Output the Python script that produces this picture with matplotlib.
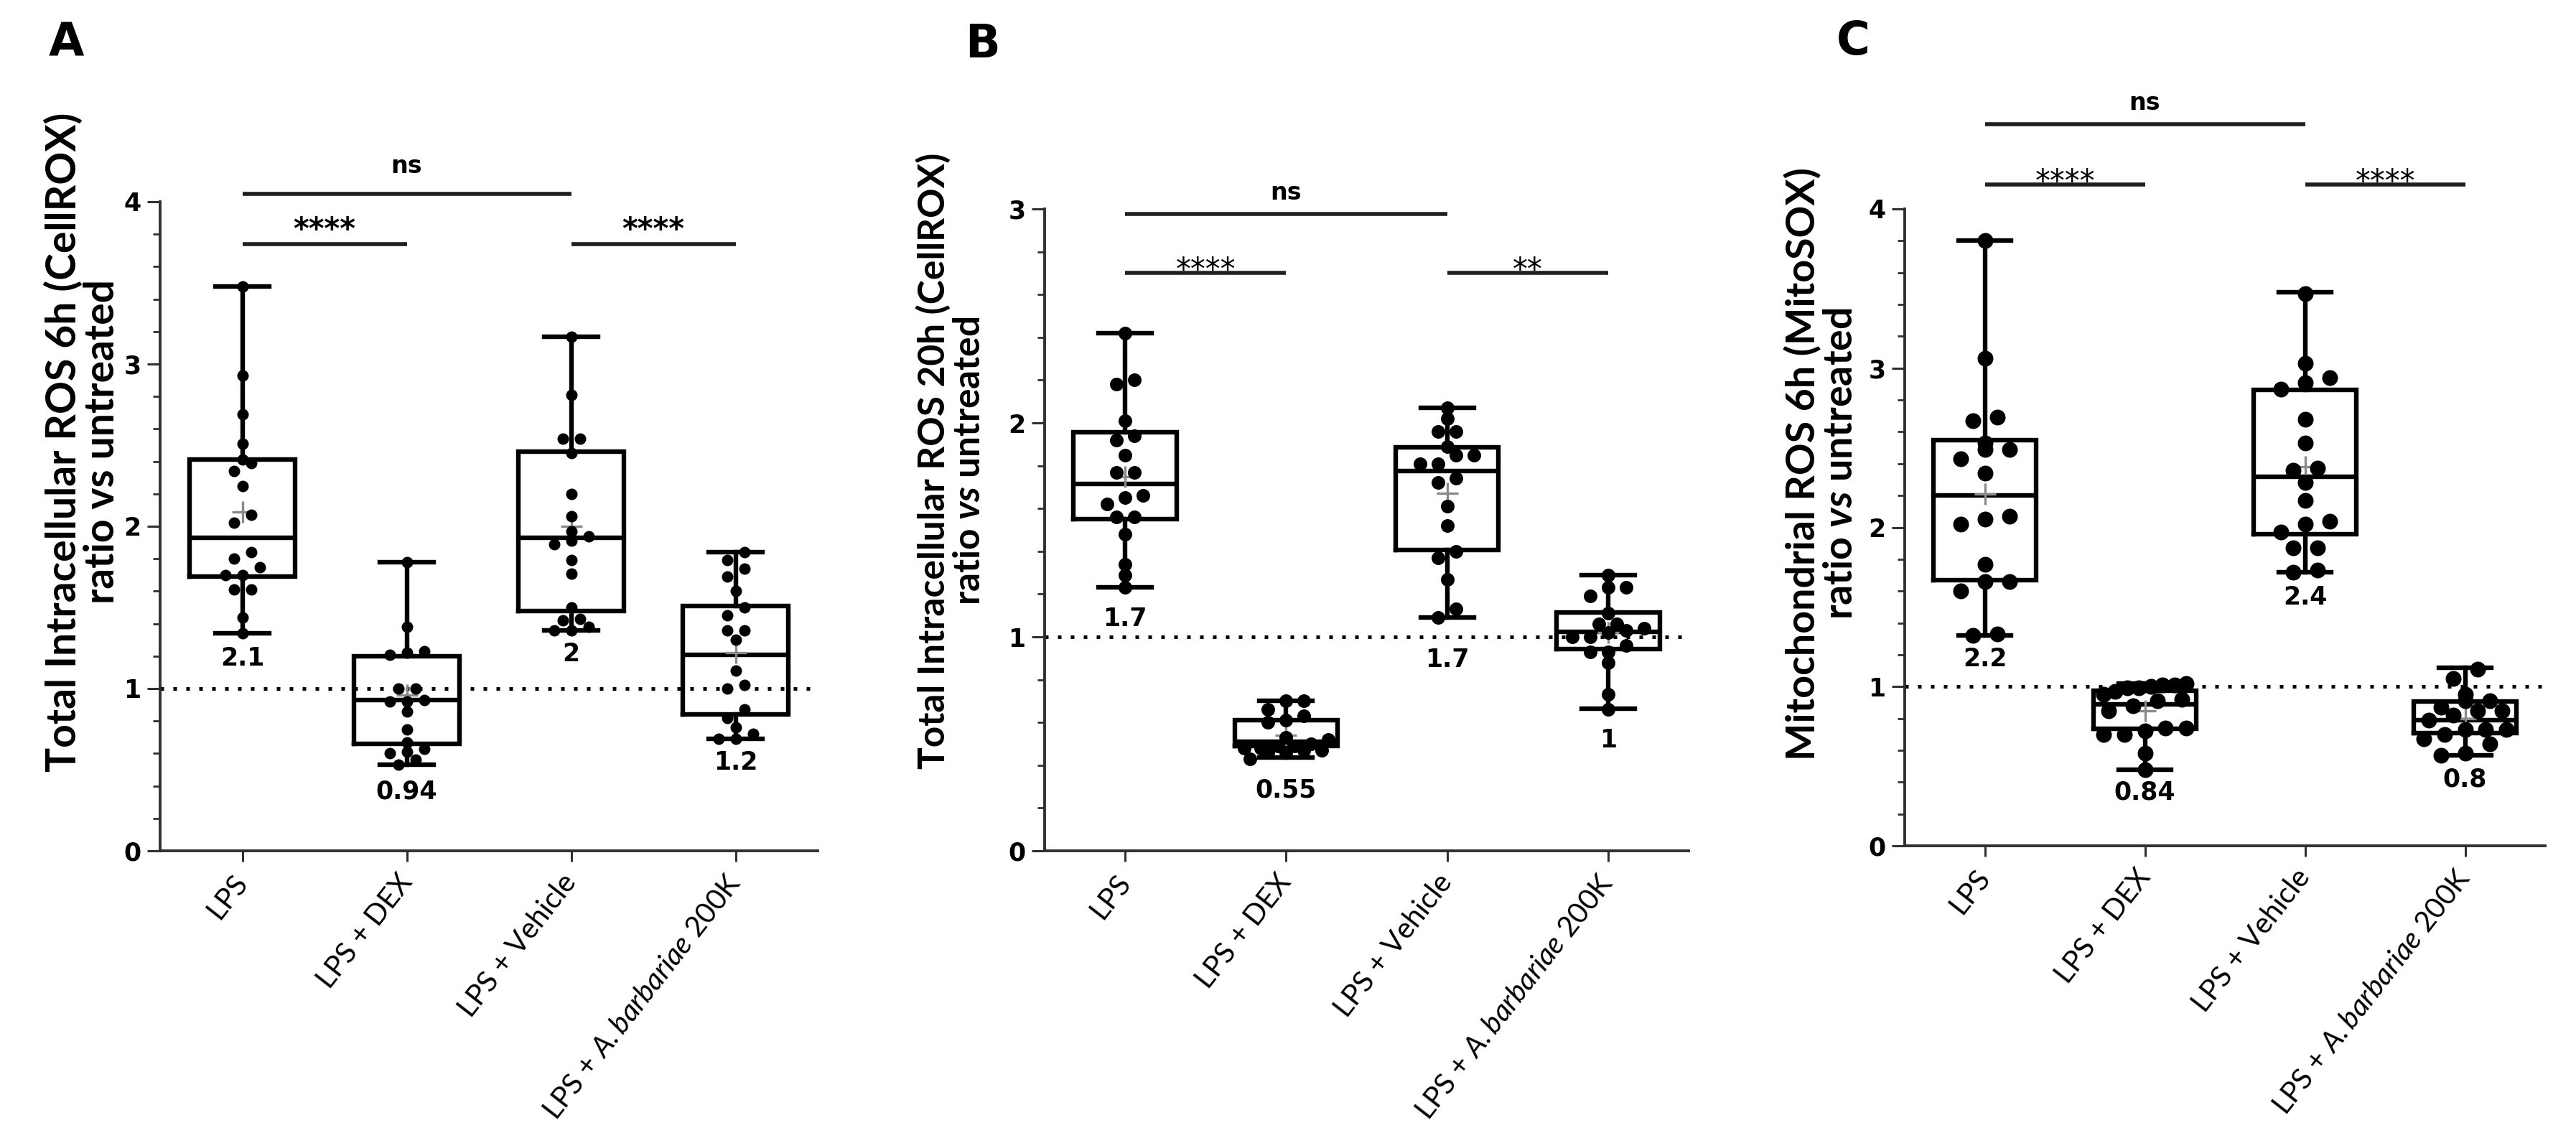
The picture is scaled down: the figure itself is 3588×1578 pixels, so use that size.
import numpy as np
import matplotlib
matplotlib.use("Agg")
import matplotlib.pyplot as plt
from matplotlib.ticker import MultipleLocator

plt.rcParams['mathtext.fontset'] = 'custom'
plt.rcParams['mathtext.rm'] = 'Lato'
plt.rcParams['mathtext.bf'] = 'Lato:bold'
plt.rcParams['mathtext.it'] = 'Lato:italic:bold'
plt.rcParams['mathtext.sf'] = 'Lato:italic'

# ---------------- data ----------------
categories = ["LPS", "LPS + DEX", "LPS + Vehicle", "LPS + $\\mathsf{A.barbariae}$ 200K"]

# Panel A : Total Intracellular ROS 6h (CellROX)
a_lps = [3.48, 2.93, 2.69, 2.51, 2.41, 2.39, 2.34, 2.25, 2.07, 2.02, 1.84, 1.80, 1.75, 1.70, 1.70, 1.61, 1.61, 1.44, 1.34]
a_dex = [1.78, 1.38, 1.23, 1.22, 1.21, 1.00, 1.00, 0.93, 0.92, 0.92, 0.86, 0.75, 0.67, 0.63, 0.61, 0.60, 0.56, 0.53]
a_veh = [3.17, 2.81, 2.54, 2.54, 2.45, 2.20, 2.06, 1.97, 1.94, 1.91, 1.89, 1.79, 1.71, 1.50, 1.43, 1.42, 1.38, 1.36, 1.36]
a_abar = [1.84, 1.79, 1.74, 1.69, 1.60, 1.50, 1.45, 1.36, 1.36, 1.30, 1.11, 1.02, 1.00, 0.87, 0.82, 0.76, 0.72, 0.69, 0.69]
a_med = [1.93, 0.93, 1.93, 1.21]
a_q1 = [1.69, 0.66, 1.48, 0.84]
a_q3 = [2.41, 1.20, 2.46, 1.51]
a_lo = [1.34, 0.53, 1.36, 0.69]
a_hi = [3.48, 1.78, 3.17, 1.84]
a_mean = [2.09, 0.96, 2.00, 1.22]
a_labels = ["2.1", "0.94", "2", "1.2"]

# Panel B : Total Intracellular ROS 20h (CellROX)
b_lps = [2.42, 2.20, 2.18, 2.01, 1.94, 1.92, 1.85, 1.77, 1.77, 1.66, 1.65, 1.62, 1.56, 1.56, 1.48, 1.34, 1.29, 1.23]
b_dex = [0.70, 0.70, 0.66, 0.63, 0.61, 0.60, 0.53, 0.52, 0.50, 0.49, 0.49, 0.48, 0.48, 0.47, 0.47, 0.46, 0.46, 0.43]
b_veh = [2.07, 2.02, 1.96, 1.96, 1.89, 1.85, 1.85, 1.81, 1.81, 1.74, 1.72, 1.61, 1.52, 1.40, 1.37, 1.27, 1.13, 1.09]
b_abar = [1.29, 1.23, 1.23, 1.19, 1.11, 1.06, 1.06, 1.04, 1.03, 1.02, 1.00, 1.00, 0.96, 0.93, 0.93, 0.88, 0.73, 0.66]
b_med = [1.715, 0.51, 1.775, 1.025]
b_q1 = [1.55, 0.49, 1.405, 0.942]
b_q3 = [1.955, 0.61, 1.886, 1.115]
b_lo = [1.23, 0.435, 1.09, 0.664]
b_hi = [2.42, 0.70, 2.07, 1.29]
b_mean = [1.75, 0.54, 1.67, 1.02]
b_labels = ["1.7", "0.55", "1.7", "1"]

# Panel C : Mitochondrial ROS 6h (MitoSOX)
c_lps = [3.80, 3.06, 2.69, 2.67, 2.53, 2.49, 2.49, 2.43, 2.34, 2.07, 2.05, 2.02, 1.77, 1.66, 1.66, 1.60, 1.33, 1.32]
c_dex = [1.02, 1.01, 1.01, 1.00, 0.99, 0.99, 0.97, 0.95, 0.92, 0.91, 0.88, 0.85, 0.74, 0.74, 0.72, 0.70, 0.70, 0.58, 0.48]
c_veh = [3.47, 3.03, 2.94, 2.91, 2.87, 2.68, 2.53, 2.37, 2.36, 2.28, 2.17, 2.04, 2.02, 1.97, 1.87, 1.87, 1.73, 1.72]
c_abar = [1.11, 1.05, 0.95, 0.91, 0.91, 0.87, 0.85, 0.85, 0.82, 0.79, 0.73, 0.73, 0.73, 0.70, 0.67, 0.64, 0.58, 0.57]
c_med = [2.20, 0.89, 2.32, 0.79]
c_q1 = [1.667, 0.734, 1.955, 0.71]
c_q3 = [2.549, 0.974, 2.864, 0.905]
c_lo = [1.32, 0.48, 1.72, 0.566]
c_hi = [3.80, 1.02, 3.475, 1.117]
c_mean = [2.21, 0.85, 2.38, 0.80]
c_labels = ["2.2", "0.84", "2.4", "0.8"]

# significance: (group i, group j, text)
a_sig = [(0, 2, "ns"), (0, 1, "****"), (2, 3, "****")]
b_sig = [(0, 2, "ns"), (0, 1, "****"), (2, 3, "**")]
c_sig = [(0, 2, "ns"), (0, 1, "****"), (2, 3, "****")]

a_ylabel = "Total Intracellular ROS 6h (CellROX)\nratio vs untreated"
b_ylabel = "Total Intracellular ROS 20h (CellROX)\nratio $\\mathit{vs}$ untreated"
c_ylabel = "Mitochondrial ROS 6h (MitoSOX)\nratio $\\mathit{vs}$ untreated"

# ---------------- figure ----------------
W, H = 3588, 1578
fig = plt.figure(figsize=(W / 100, H / 100), dpi=100)

panels = [
    dict(letter="A", rect=[223, 281, 1139, 1185], ymax=4,
         groups=[a_lps, a_dex, a_veh, a_abar], med=a_med, q1=a_q1, q3=a_q3, lo=a_lo, hi=a_hi,
         mean=a_mean, labels=a_labels, sig=a_sig, ylabel=a_ylabel,
         ns_y=4.05, star_y=3.74, dot=16, step=24, gaps=[35, 37, 33, 33],
         ylab_x=-0.118, ylab_y=0.63, ylab_fs=41, ylab_ls=1.0,
         star_w='bold', letter_xy=(92, 60)),
    dict(letter="B", rect=[1455, 291, 2352, 1185], ymax=3,
         groups=[b_lps, b_dex, b_veh, b_abar], med=b_med, q1=b_q1, q3=b_q3, lo=b_lo, hi=b_hi,
         mean=b_mean, labels=b_labels, sig=b_sig, ylabel=b_ylabel,
         ns_y=2.977, star_y=2.70, dot=19, step=25, gaps=[44, 45, 59, 44],
         ylab_x=-0.145, ylab_y=0.608, ylab_fs=37, ylab_ls=1.05,
         star_w='normal', letter_xy=(1368, 62)),
    dict(letter="C", rect=[2653, 291, 3545, 1178], ymax=4,
         groups=[c_lps, c_dex, c_veh, c_abar], med=c_med, q1=c_q1, q3=c_q3, lo=c_lo, hi=c_hi,
         mean=c_mean, labels=c_labels, sig=c_sig, ylabel=c_ylabel,
         ns_y=4.53, star_y=4.153, dot=22, step=34, gaps=[33, 32, 35, 33],
         ylab_x=-0.130, ylab_y=0.60, ylab_fs=40, ylab_ls=1.05,
         star_w='normal', letter_xy=(2581, 58)),
]

LW_BOX = 4.6
AX_COLOR = "#303030"


def swarm(ax, vals, d_px, step_px, max_span_units=0.52):
    vals = np.asarray(vals, dtype=float)
    ypx = np.array([ax.transData.transform((0, v))[1] for v in vals])
    xpx_per_unit = ax.transData.transform((1, 0))[0] - ax.transData.transform((0, 0))[0]
    order = np.argsort(ypx)
    rows, cur, start = [], [order[0]], ypx[order[0]]
    for i in order[1:]:
        if ypx[i] - start < d_px * 0.75:
            cur.append(i)
        else:
            rows.append(cur)
            cur, start = [i], ypx[i]
    rows.append(cur)
    offs = np.zeros(len(vals))
    for r in rows:
        k = len(r)
        step = step_px / xpx_per_unit
        if k > 1 and (k - 1) * step > max_span_units:
            step = max_span_units / (k - 1)
        for j, i in enumerate(r):
            offs[i] = (j - (k - 1) / 2) * step
    return offs


for p in panels:
    x0, y0, x1, y1 = p["rect"]
    ax = fig.add_axes([x0 / W, 1 - y1 / H, (x1 - x0) / W, (y1 - y0) / H])
    ax.set_xlim(-0.5, 3.5)
    ax.set_ylim(0, p["ymax"])
    for s in ["top", "right"]:
        ax.spines[s].set_visible(False)
    for s in ["left", "bottom"]:
        ax.spines[s].set_linewidth(2.8)
        ax.spines[s].set_color(AX_COLOR)
    ax.yaxis.set_major_locator(MultipleLocator(1))
    ax.yaxis.set_minor_locator(MultipleLocator(0.2))
    ax.tick_params(axis="y", which="major", length=13, width=2.2, color=AX_COLOR, pad=6,
                   labelsize=25)
    ax.tick_params(axis="y", which="minor", length=7, width=2.0, color=AX_COLOR)
    ax.tick_params(axis="x", which="major", length=11, width=2.2, color=AX_COLOR, pad=16)
    for lab in ax.get_yticklabels():
        lab.set_fontweight("bold")
        lab.set_family("DejaVu Sans")
    ax.set_xticks(range(4))
    ax.set_xticklabels(categories, rotation=52, ha="right", va="center",
                       rotation_mode="anchor", fontsize=29, family="Lato")

    # dotted reference line
    ax.axhline(1, color="black", lw=3.6, ls=(0, (1, 2.6)), zorder=1)

    # boxes
    stats = []
    for i in range(4):
        stats.append(dict(med=p["med"][i], q1=p["q1"][i], q3=p["q3"][i],
                          whislo=p["lo"][i], whishi=p["hi"][i], fliers=[]))
    lp = dict(color="black", linewidth=LW_BOX, solid_joinstyle="miter")
    ax.bxp(stats, positions=range(4), widths=0.64, capwidths=0.33, showfliers=False,
           boxprops=lp, whiskerprops=lp, capprops=lp, medianprops=lp, manage_ticks=False,
           zorder=2)

    # means (grey cross)
    ax.plot(range(4), p["mean"], ls="none", marker="+", ms=21, mew=2.4, color="#8a8a8a",
            zorder=3)

    # dots
    for i, g in enumerate(p["groups"]):
        offs = swarm(ax, g, p["dot"], p["step"])
        ax.plot(i + offs, g, ls="none", marker="o", ms=p["dot"] * 0.72, color="black",
                mec="none", zorder=4)

    # mean labels under the lower whisker
    for i in range(4):
        ax.annotate(p["labels"][i], xy=(i, p["lo"][i]), xytext=(0, -p["gaps"][i]),
                    textcoords="offset pixels", ha="center", va="center",
                    fontsize=25, fontweight="bold", family="DejaVu Sans", zorder=5)

    # significance brackets
    for (gi, gj, txt) in p["sig"]:
        yb = p["ns_y"] if txt == "ns" else p["star_y"]
        ax.plot([gi, gj], [yb, yb], color="#202020", lw=4.0, clip_on=False,
                solid_capstyle="butt")
        if txt == "ns":
            ax.annotate(txt, xy=((gi + gj) / 2, yb), xytext=(0, 20 if p["letter"] != "A" else 29),
                        textcoords="offset pixels", ha="center", va="baseline",
                        fontsize=24, fontweight="bold", family="DejaVu Sans",
                        annotation_clip=False)
        else:
            off = 7 if p["letter"] == "A" else -9
            ax.annotate(txt, xy=((gi + gj) / 2, yb), xytext=(0, off),
                        textcoords="offset pixels", ha="center", va="baseline",
                        fontsize=30, fontweight=p["star_w"], family="DejaVu Sans",
                        annotation_clip=False)

    # y label
    ax.text(p["ylab_x"], p["ylab_y"], p["ylabel"], transform=ax.transAxes, rotation=90,
            ha="center", va="center", multialignment="center", fontsize=p["ylab_fs"],
            fontweight="bold", family="Lato", linespacing=p["ylab_ls"])

    # panel letter
    fig.text(p["letter_xy"][0] / W, 1 - p["letter_xy"][1] / H, p["letter"], ha="center",
             va="center", fontsize=46, fontweight="bold", family="DejaVu Sans")

fig.savefig("out.png", dpi=100, facecolor="white")
